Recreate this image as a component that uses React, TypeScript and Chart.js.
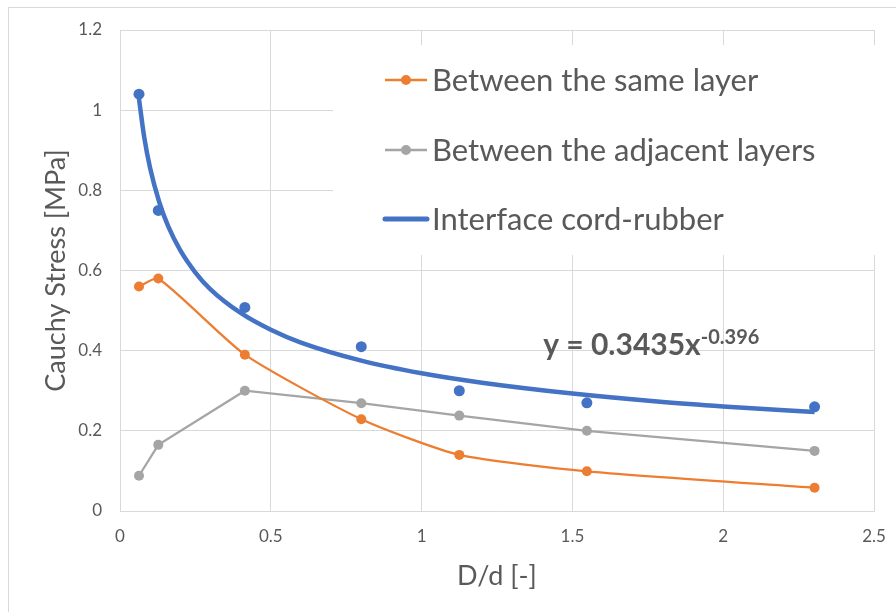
import React, { useEffect, useRef } from "react";
import { Chart, registerables } from "chart.js";

Chart.register(...registerables);

// ---- data ----
const dRatio = [0.063, 0.127, 0.414, 0.8, 1.125, 1.548, 2.303];
const sameLayer = [0.56, 0.58, 0.39, 0.229, 0.14, 0.099, 0.058];
const adjacentLayers = [0.088, 0.165, 0.3, 0.269, 0.238, 0.2, 0.15];
const interfaceCord = [1.04, 0.75, 0.508, 0.41, 0.3, 0.27, 0.26];
const trendX = [0.063, 0.08, 0.1, 0.13, 0.16, 0.2, 0.25, 0.3, 0.4, 0.5, 0.6, 0.8, 1.0, 1.2, 1.5, 1.8, 2.0, 2.303];
const trendY = [1.028, 0.934, 0.855, 0.771, 0.71, 0.65, 0.595, 0.553, 0.494, 0.452, 0.42, 0.375, 0.3435, 0.32, 0.293, 0.272, 0.261, 0.247];

const xTicks = [0, 0.5, 1, 1.5, 2, 2.5];
const yTicks = [0, 0.2, 0.4, 0.6, 0.8, 1, 1.2];
const xTitle = "D/d [-]";
const yTitle = "Cauchy Stress [MPa]";
const seriesNames = ["Between the same layer", "Between the adjacent layers", "Interface cord-rubber"];
const eqMain = "y = 0.3435x";
const eqSup = "-0.396";

const ORANGE = "#ED7D31";
const GRAY = "#A5A5A5";
const BLUE = "#4472C4";
const TEXT = "#595959";
const GRID = "#D9D9D9";
const FONT = "Lato";

const overlayPlugin = {
  id: "overlay",
  beforeDraw(chart: any) {
    const { ctx, width, height } = chart;
    ctx.save();
    ctx.fillStyle = "#ffffff";
    ctx.fillRect(0, 0, width, height);
    ctx.strokeStyle = GRID;
    ctx.lineWidth = 1;
    ctx.strokeRect(0.5, 0.5, width + 10, height + 10);
    ctx.restore();
  },
  afterDraw(chart: any) {
    const { ctx, chartArea, scales } = chart;
    const a = chartArea;
    ctx.save();
    // legend box
    ctx.fillStyle = "#ffffff";
    ctx.fillRect(a.left + 213, a.top + 15, a.right - a.left - 212, 210);
    const items = [
      { color: ORANGE, marker: true, lw: 2.5 },
      { color: GRAY, marker: true, lw: 2.5 },
      { color: BLUE, marker: false, lw: 5 },
    ];
    const rows = [50, 120, 189];
    items.forEach((it, i) => {
      const y = a.top + rows[i];
      const x0 = a.left + 265;
      const x1 = a.left + 307;
      ctx.strokeStyle = it.color;
      ctx.lineWidth = it.lw;
      ctx.lineCap = it.marker ? "butt" : "round";
      ctx.beginPath();
      ctx.moveTo(x0, y);
      ctx.lineTo(x1, y);
      ctx.stroke();
      if (it.marker) {
        ctx.fillStyle = it.color;
        ctx.beginPath();
        ctx.arc((x0 + x1) / 2, y, 5, 0, Math.PI * 2);
        ctx.fill();
      }
      ctx.fillStyle = TEXT;
      ctx.font = `31px ${FONT}`;
      ctx.textBaseline = "middle";
      ctx.textAlign = "left";
      ctx.fillText(seriesNames[i], a.left + 312, y + 1);
    });
    // equation
    const ex = scales.x.getPixelForValue(1.403);
    const ey = scales.y.getPixelForValue(0.389);
    ctx.fillStyle = TEXT;
    ctx.textBaseline = "alphabetic";
    ctx.font = `bold 30px ${FONT}`;
    ctx.fillText(eqMain, ex, ey);
    const w = ctx.measureText(eqMain).width;
    ctx.font = `bold 20px ${FONT}`;
    ctx.fillText(eqSup, ex + w, ey - 11);
    ctx.restore();
  },
};

export default function App() {
  const ref = useRef<HTMLCanvasElement | null>(null);
  useEffect(() => {
    if (!ref.current) return;
    const pts = (xs: number[], ys: number[]) => xs.map((x, i) => ({ x, y: ys[i] }));
    const chart = new Chart(ref.current, {
      type: "scatter",
      data: {
        datasets: [
          {
            label: seriesNames[2] + " trend",
            data: pts(trendX, trendY),
            showLine: true,
            borderColor: BLUE,
            borderWidth: 4.5,
            pointRadius: 0,
            cubicInterpolationMode: "monotone",
            order: 1,
          },
          {
            label: seriesNames[2],
            data: pts(dRatio, interfaceCord),
            showLine: false,
            backgroundColor: BLUE,
            borderColor: BLUE,
            pointRadius: 5.5,
            pointBorderWidth: 0,
            order: 2,
          },
          {
            label: seriesNames[0],
            data: pts(dRatio, sameLayer),
            showLine: true,
            borderColor: ORANGE,
            backgroundColor: ORANGE,
            borderWidth: 2.25,
            pointRadius: 5,
            pointBorderWidth: 0,
            tension: 0.2,
            order: 3,
          },
          {
            label: seriesNames[1],
            data: pts(dRatio, adjacentLayers),
            showLine: true,
            borderColor: GRAY,
            backgroundColor: GRAY,
            borderWidth: 2.25,
            pointRadius: 5,
            pointBorderWidth: 0,
            order: 4,
          },
        ],
      },
      options: {
        animation: false,
        responsive: false,
        maintainAspectRatio: false,
        layout: { padding: { top: 23, right: 22, left: 0, bottom: 0 } },
        plugins: { legend: { display: false }, tooltip: { enabled: false } },
        scales: {
          x: {
            type: "linear",
            min: 0,
            max: 2.5,
            afterBuildTicks: (s: any) => {
              s.ticks = xTicks.map((v) => ({ value: v }));
            },
            afterFit: (s: any) => {
              s.height = 101;
              s.paddingLeft = 0;
              s.paddingRight = 0;
            },
            grid: { color: GRID, lineWidth: 1, drawTicks: false },
            border: { color: GRID, width: 1 },
            ticks: {
              color: TEXT,
              font: { family: FONT, size: 17 },
              padding: 15,
              callback: (v: any) => String(v),
              maxRotation: 0,
            },
            title: {
              display: true,
              text: xTitle,
              color: TEXT,
              font: { family: FONT, size: 27 },
              padding: { top: 0, bottom: 20 },
            },
          },
          y: {
            type: "linear",
            min: 0,
            max: 1.2,
            afterBuildTicks: (s: any) => {
              s.ticks = yTicks.map((v) => ({ value: v }));
            },
            afterFit: (s: any) => {
              s.width = 112;
              s.paddingTop = 0;
              s.paddingBottom = 0;
            },
            grid: { color: GRID, lineWidth: 1, drawTicks: false },
            border: { color: GRID, width: 1 },
            ticks: {
              color: TEXT,
              font: { family: FONT, size: 17 },
              padding: 18,
              callback: (v: any) => String(v),
            },
            title: {
              display: true,
              text: yTitle,
              color: TEXT,
              font: { family: FONT, size: 27 },
              padding: { top: 32, bottom: 0 },
            },
          },
        },
      },
      plugins: [overlayPlugin],
    } as any);
    return () => chart.destroy();
  }, []);
  return (
    <div style={{ position: "fixed", left: 8, top: 7, width: 888, height: 605 }}>
      <canvas ref={ref} width={888} height={605} style={{ width: 888, height: 605, display: "block" }} />
    </div>
  );
}
